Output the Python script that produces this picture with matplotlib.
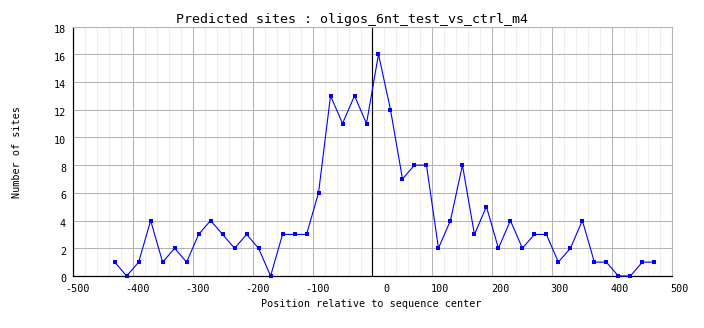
import matplotlib

matplotlib.use("Agg")
import matplotlib.pyplot as plt
import matplotlib.transforms as mtransforms
from matplotlib.ticker import MultipleLocator

# site counts per 20 bp bin, bins centred on -430 .. 470
positions = [-430, -410, -390, -370, -350, -330, -310, -290, -270, -250,
             -230, -210, -190, -170, -150, -130, -110, -90, -70, -50,
             -30, -10, 10, 30, 50, 70, 90, 110, 130, 150,
             170, 190, 210, 230, 250, 270, 290, 310, 330, 350,
             370, 390, 410, 430, 450, 470]
sites = [1, 0, 1, 4, 1, 2, 1, 3, 4, 3,
         2, 3, 2, 0, 3, 3, 3, 6, 13, 11,
         13, 11, 16, 12, 7, 8, 8, 2, 4, 8,
         3, 5, 2, 4, 2, 3, 3, 1, 2, 4,
         1, 1, 0, 0, 1, 1]

x_ticks = [-500, -400, -300, -200, -100, 0, 100, 200, 300, 400, 500]
y_ticks = [0, 2, 4, 6, 8, 10, 12, 14, 16, 18]

title = "Predicted sites : oligos_6nt_test_vs_ctrl_m4"
x_label = "Position relative to sequence center"
y_label = "Number of sites"

MONO = "DejaVu Sans Mono"
GRID_MAJOR = "#b4b4b4"
GRID_MINOR = "#eeeeee"


def plot_sites(path="out.png"):
    W, H, dpi = 704, 328, 100
    fig = plt.figure(figsize=(W / dpi, H / dpi), dpi=dpi)
    left, right, top, bottom = 72.7, 672.3, 26.5, 276.0
    ax = fig.add_axes([left / W, 1 - bottom / H, (right - left) / W, (bottom - top) / H])

    ax.set_xlim(-500, 500)
    ax.set_ylim(0, 18)
    ax.set_xticks(x_ticks)
    ax.set_yticks(y_ticks)
    ax.xaxis.set_minor_locator(MultipleLocator(20))

    ax.grid(which="minor", axis="x", color=GRID_MINOR, linewidth=0.75, zorder=0)
    ax.grid(which="major", color=GRID_MAJOR, linewidth=0.75, zorder=1)
    ax.set_axisbelow(True)
    ax.axvline(0, color="black", linewidth=0.85, zorder=2)

    for side in ("left", "bottom"):
        ax.spines[side].set_color("black")
        ax.spines[side].set_linewidth(0.9)
    for side in ("top", "right"):
        ax.spines[side].set_color(GRID_MAJOR)
        ax.spines[side].set_linewidth(0.75)

    ax.plot(positions, sites, color="#0000ff", linewidth=0.8, marker="s",
            markersize=2.4, markeredgewidth=0, zorder=3, clip_on=False)

    ax.tick_params(which="both", length=0)
    ax.tick_params(axis="x", pad=6)
    ax.tick_params(axis="y", pad=4.8)
    ax.set_xticklabels([str(v) for v in x_ticks], fontfamily=MONO, fontsize=7.3)
    ax.set_yticklabels([str(v) for v in y_ticks], fontfamily=MONO, fontsize=7.3)

    # right-align the x labels a little past their gridline, nudge y labels down
    shift_x = mtransforms.ScaledTranslation(16.7 / dpi, 0, fig.dpi_scale_trans)
    for lab in ax.get_xticklabels():
        lab.set_horizontalalignment("right")
        lab.set_transform(lab.get_transform() + shift_x)
    shift_y = mtransforms.ScaledTranslation(0, -2.5 / dpi, fig.dpi_scale_trans)
    for lab in ax.get_yticklabels():
        lab.set_transform(lab.get_transform() + shift_y)

    fig.text(351.5 / W, 1 - 22.7 / H, title, ha="center", va="baseline",
             fontfamily=MONO, fontsize=9.6)
    fig.text(371.3 / W, 1 - 306.7 / H, x_label, ha="center", va="baseline",
             fontfamily=MONO, fontsize=7.3)
    fig.text(17 / W, 1 - 151.7 / H, y_label, ha="center", va="center",
             rotation=90, fontfamily=MONO, fontsize=7.3)

    fig.savefig(path, dpi=dpi)
    plt.close(fig)


if __name__ == "__main__":
    plot_sites()
